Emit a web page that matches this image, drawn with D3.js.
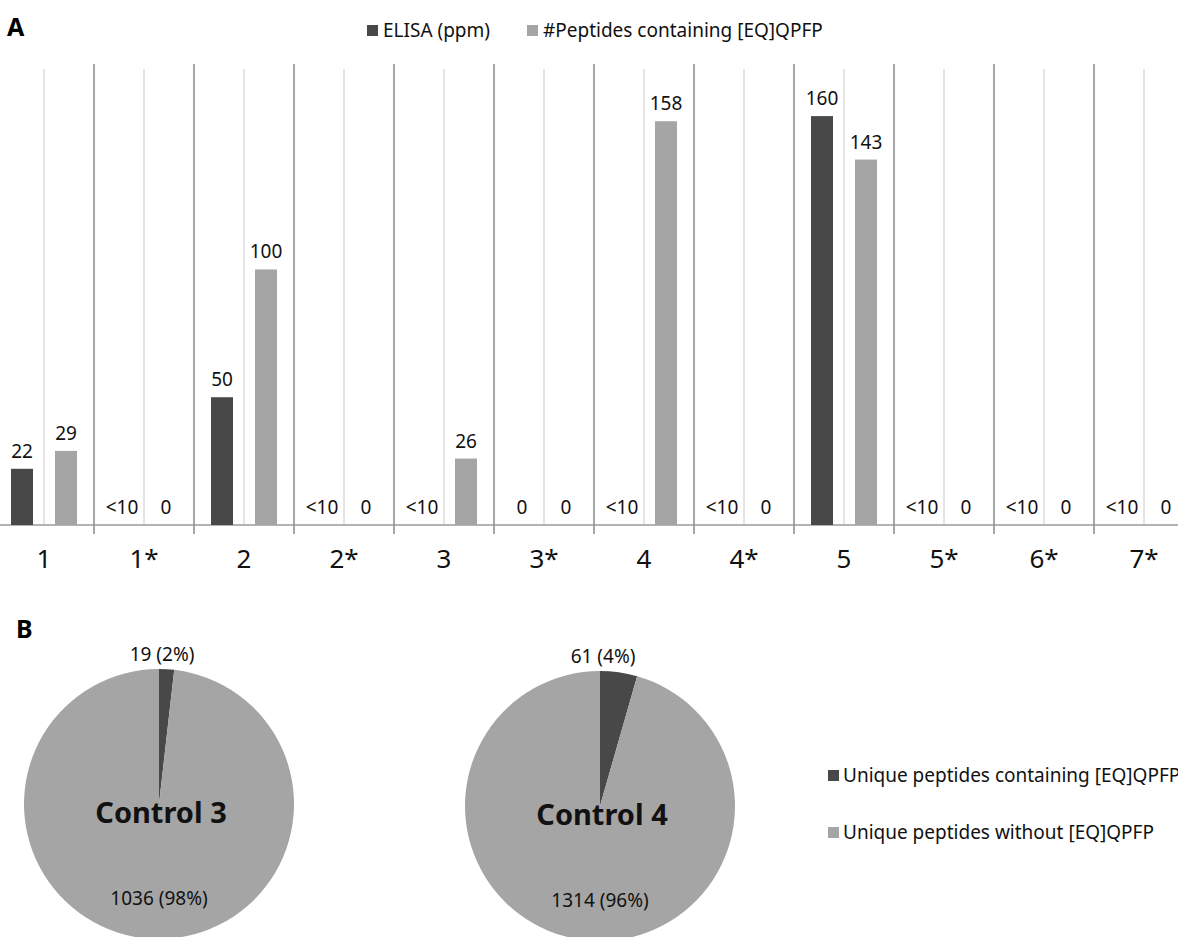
<!DOCTYPE html>
<html>
<head>
<meta charset="utf-8">
<style>
  body { margin: 0; background: #fff; font-family: "Noto Sans", sans-serif; }
  .lbl { font-size: 19px; fill: #111; }
  .cat { font-size: 26px; fill: #111; }
  .panel { font-size: 25px; font-weight: bold; fill: #000; }
</style>
</head>
<body>
<script src="https://d3js.org/d3.v7.min.js"></script>
<script>
// panel A data
var samples = ["1", "1*", "2", "2*", "3", "3*", "4", "4*", "5", "5*", "6*", "7*"];
var elisa = [22, 0, 50, 0, 0, 0, 0, 0, 160, 0, 0, 0];
var elisaText = ["22", "<10", "50", "<10", "<10", "0", "<10", "<10", "160", "<10", "<10", "<10"];
var peptides = [29, 0, 100, 0, 26, 0, 158, 0, 143, 0, 0, 0];
var seriesNames = ["ELISA (ppm)", "#Peptides containing [EQ]QPFP"];

// panel B data
var controls = ["Control 3", "Control 4"];
var withMotif = [19, 61];
var withoutMotif = [1036, 1314];
var pieNames = ["Unique peptides containing [EQ]QPFP", "Unique peptides without [EQ]QPFP"];

var dark = "#484848", light = "#a5a5a5";

var svg = d3.select("body").append("svg")
    .attr("width", 1178)
    .attr("height", 937);

// ---- panel A ----
var x = d3.scaleBand().domain(samples).range([-6, 1194]);
var y = d3.scaleLinear().domain([0, 180]).range([525, 65]);
var bw = 22;

svg.append("text").attr("class", "panel").attr("x", 7).attr("y", 36).text("A");

var g = svg.append("g");

// light lines at category centers
g.selectAll("line.mid").data(samples).enter().append("line")
    .attr("x1", function(d) { return x(d) + x.bandwidth() / 2; })
    .attr("x2", function(d) { return x(d) + x.bandwidth() / 2; })
    .attr("y1", 69).attr("y2", 525)
    .attr("stroke", "#dcdcdc").attr("stroke-width", 1.5);

// darker separators between categories
g.selectAll("line.sep").data(samples.slice(1)).enter().append("line")
    .attr("x1", function(d) { return x(d); })
    .attr("x2", function(d) { return x(d); })
    .attr("y1", 64).attr("y2", 534)
    .attr("stroke", "#8a8a8a").attr("stroke-width", 1.5);

g.append("line").attr("x1", 0).attr("x2", 1178).attr("y1", 525).attr("y2", 525)
    .attr("stroke", "#9a9a9a").attr("stroke-width", 1.5);

function cx(i) { return x(samples[i]) + x.bandwidth() / 2; }

// ELISA bars
g.selectAll("rect.e").data(elisa).enter().append("rect")
    .attr("x", function(d, i) { return cx(i) - 22 - bw / 2; })
    .attr("y", function(d) { return y(d); })
    .attr("width", bw)
    .attr("height", function(d) { return 525 - y(d); })
    .attr("fill", dark);

g.selectAll("rect.p").data(peptides).enter().append("rect")
    .attr("x", function(d, i) { return cx(i) + 22 - bw / 2; })
    .attr("y", function(d) { return y(d); })
    .attr("width", bw)
    .attr("height", function(d) { return 525 - y(d); })
    .attr("fill", light);

g.selectAll("text.e").data(elisa).enter().append("text")
    .attr("class", "lbl")
    .attr("text-anchor", "middle")
    .attr("x", function(d, i) { return cx(i) - 22; })
    .attr("y", function(d) { return y(d) - 11; })
    .text(function(d, i) { return elisaText[i]; });

g.selectAll("text.p").data(peptides).enter().append("text")
    .attr("class", "lbl")
    .attr("text-anchor", "middle")
    .attr("x", function(d, i) { return cx(i) + 22; })
    .attr("y", function(d) { return y(d) - 11; })
    .text(function(d) { return d; });

g.selectAll("text.cat").data(samples).enter().append("text")
    .attr("class", "cat")
    .attr("text-anchor", "middle")
    .attr("x", function(d) { return x(d) + x.bandwidth() / 2; })
    .attr("y", 568)
    .text(function(d) { return d; });

// legend A
var legA = [{ x: 367, c: dark }, { x: 527, c: light }];
legA.forEach(function(l, i) {
  svg.append("rect").attr("x", l.x).attr("y", 25).attr("width", 11).attr("height", 11).attr("fill", l.c);
  svg.append("text").attr("class", "lbl").attr("x", l.x + 16).attr("y", 37).text(seriesNames[i]);
});

// ---- panel B ----
svg.append("text").attr("class", "panel").attr("x", 16).attr("y", 638).text("B");

var pie = d3.pie().sort(null);
var arc = d3.arc().innerRadius(0).outerRadius(135);
var centers = [[159, 804], [600, 806]];

controls.forEach(function(name, i) {
  var vals = [withMotif[i], withoutMotif[i]];
  var total = vals[0] + vals[1];
  var pg = svg.append("g").attr("transform", "translate(" + centers[i][0] + "," + centers[i][1] + ")");
  pg.selectAll("path").data(pie(vals)).enter().append("path")
    .attr("d", arc)
    .attr("fill", function(d, j) { return j === 0 ? dark : light; });
  pg.append("text").attr("class", "lbl").attr("text-anchor", "middle")
    .attr("x", 3).attr("y", -143)
    .text(vals[0] + " (" + Math.round(vals[0] / total * 100) + "%)");
  pg.append("text").attr("class", "lbl").attr("text-anchor", "middle")
    .attr("x", 0).attr("y", 101)
    .text(vals[1] + " (" + Math.round(vals[1] / total * 100) + "%)");
  pg.append("text").attr("text-anchor", "middle")
    .attr("x", 2).attr("y", 19)
    .style("font-size", "29px").style("font-weight", "bold").attr("fill", "#111")
    .text(name);
});

var legB = [{ y: 770, c: dark }, { y: 827, c: light }];
legB.forEach(function(l, i) {
  svg.append("rect").attr("x", 828).attr("y", l.y).attr("width", 11).attr("height", 11).attr("fill", l.c);
  svg.append("text").attr("class", "lbl").attr("x", 843).attr("y", l.y + 12).text(pieNames[i]);
});
</script>
</body>
</html>
